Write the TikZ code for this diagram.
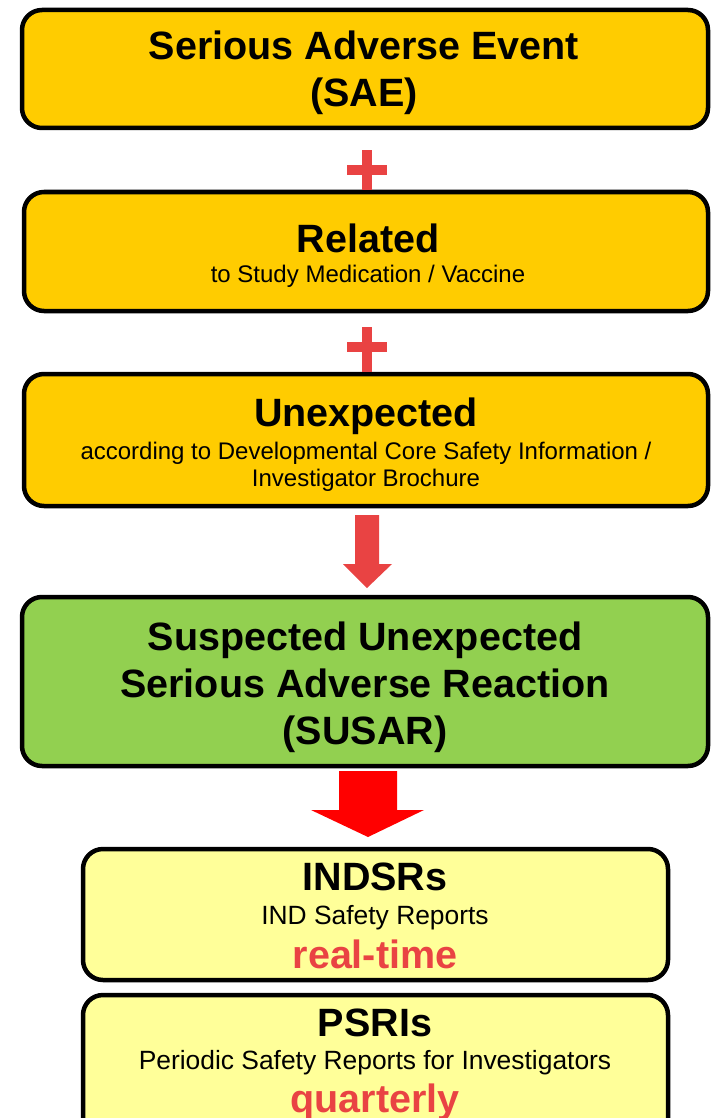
\documentclass[tikz,border=0pt]{standalone}
\usepackage{fontspec}
\setmainfont{Liberation Sans}
\definecolor{saeorange}{HTML}{FFCC00}
\definecolor{susargreen}{HTML}{92D050}
\definecolor{reportyellow}{HTML}{FFFF99}
\definecolor{plusred}{HTML}{E94343}
\definecolor{arrowred}{HTML}{FF0000}
\begin{document}
\begin{tikzpicture}[x=1pt,y=-1pt,
  box/.style={draw=black, line width=4.5pt, rounded corners=20pt, inner sep=0pt},
  head/.style={anchor=base, inner sep=0pt, font=\fontsize{39.5}{40}\selectfont\bfseries},
  sub/.style={anchor=base, inner sep=0pt, font=\fontsize{24}{26}\selectfont},
  subbig/.style={anchor=base, inner sep=0pt, font=\fontsize{26.4}{28}\selectfont},
  freq/.style={anchor=base, inner sep=0pt, text=plusred, font=\fontsize{39.5}{40}\selectfont\bfseries},
  plusbar/.style={fill=plusred, draw=none}
]
\useasboundingbox (0,0) rectangle (711,1118);
\clip (0,0) rectangle (711,1118);

% boxes
\node[box, fill=saeorange, minimum width=686pt, minimum height=118pt] (sae) at (365,69) {};
\node[box, fill=saeorange, minimum width=684pt, minimum height=119pt] (rel) at (366,251.5) {};
\node[box, fill=saeorange, minimum width=684pt, minimum height=132pt] (unx) at (366,440) {};
\node[box, fill=susargreen, minimum width=686pt, minimum height=169pt] (susar) at (365,681.5) {};
\node[box, fill=reportyellow, minimum width=585pt, minimum height=131pt] (indsr) at (375.5,914.5) {};
\node[box, fill=reportyellow, minimum width=585pt, minimum height=160pt] (psri) at (375.5,1075) {};

% plus signs
\fill[plusbar] (362,150) rectangle (372,190);
\fill[plusbar] (347,165) rectangle (387,175);
\fill[plusbar] (362,327) rectangle (372,372);
\fill[plusbar] (347,342) rectangle (387,352);

% arrows
\fill[plusred] (355,515) -- (379,515) -- (379,564) -- (392,564) -- (367,588) -- (343,564) -- (355,564) -- cycle;
\fill[arrowred] (339,771) -- (397,771) -- (397,810) -- (424,810) -- (368,837) -- (311,810) -- (339,810) -- cycle;

% texts
\node[head] (t1) at (364,60) {Serious Adverse Event};
\node[head] (t2) at (364,107) {(SAE)};
\node[head] (t3) at (368,252) {Related};
\node[sub] (t4) at (368,282) {to Study Medication / Vaccine};
\node[head] (t5) at (366,426) {Unexpected};
\node[sub] (t6) at (366,459) {according to Developmental Core Safety Information /};
\node[sub] (t7) at (366,486) {Investigator Brochure};
\node[head] (t8) at (365,650) {Suspected Unexpected};
\node[head] (t9) at (365,697) {Serious Adverse Reaction};
\node[head] (t10) at (365,744) {(SUSAR)};
\node[head] (t11) at (375,890) {INDSRs};
\node[subbig] (t12) at (375,924) {IND Safety Reports};
\node[freq] (t13) at (375,968) {real-time};
\node[head] (t14) at (375,1036) {PSRIs};
\node[subbig] (t15) at (375,1069) {Periodic Safety Reports for Investigators};
\node[freq] (t16) at (375,1112) {quarterly};
\end{tikzpicture}
\end{document}
